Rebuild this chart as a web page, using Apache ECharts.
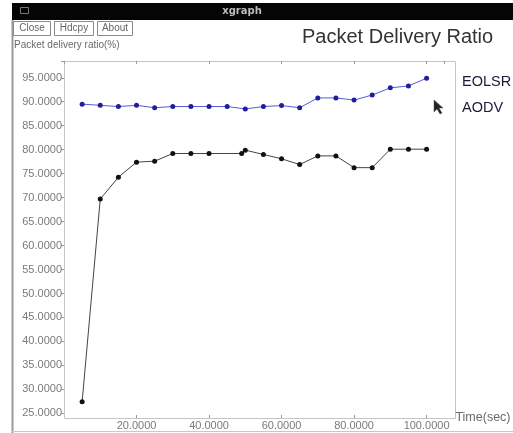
<!DOCTYPE html>
<html>
<head>
<meta charset="utf-8">
<script src="https://cdn.jsdelivr.net/npm/echarts@6/dist/echarts.min.js"></script>
<style>
  html, body { margin: 0; padding: 0; background: #ffffff; }
  #chart { width: 513px; height: 433px; }
</style>
</head>
<body>
<div id="chart"></div>
<script>
const EOLSR_X = [5, 10, 15, 20, 25, 30, 35, 40, 45, 50, 55, 60, 65, 70, 75, 80, 85, 90, 95, 100];
const EOLSR_Y = [89.5, 89.25, 89.0, 89.25, 88.75, 89.0, 89.0, 89.0, 89.0, 88.5, 89.0, 89.2, 88.75, 90.8, 90.8, 90.35, 91.4, 92.9, 93.3, 94.9];
const AODV_X = [5, 10, 15, 20, 25, 30, 35, 40, 49, 50, 55, 60, 65, 70, 75, 80, 85, 90, 95, 100];
const AODV_Y = [27.4, 69.7, 74.25, 77.4, 77.6, 79.2, 79.2, 79.2, 79.2, 79.9, 79.0, 78.1, 76.9, 78.7, 78.7, 76.25, 76.25, 80.1, 80.1, 80.1];
const BUTTONS = ["Close", "Hdcpy", "About"];

const X_MIN = 0, X_MAX = 104.8, X_STEP = 20;
const Y_MIN = 25, Y_MAX = 98.5, Y_STEP = 5;

// plot box (the xgraph frame runs a few px below the 25 line)
const PLOT = { left: 64, top: 61, right: 455, bottom: 418 };
const GRID_BOTTOM_PX = 413.3;

const chart = echarts.init(document.getElementById("chart"), null, { renderer: "canvas" });

const pairs = (xs, ys) => xs.map((x, i) => [x, ys[i]]);
const fmt = (v) => v.toFixed(4);

const tickStyle = { lineStyle: { color: "#9a9a9a", width: 1 } };
const labelFont = { fontFamily: "Liberation Sans, Arial, sans-serif", fontSize: 11, color: "#7a7a7a" };

const buttonGraphics = [];
let bx = 13;
const BUTTON_W = [37, 39, 35];
BUTTONS.forEach((label, i) => {
  buttonGraphics.push({
    type: "rect",
    shape: { x: bx + 0.5, y: 21.5, width: BUTTON_W[i], height: 14 },
    style: { fill: "#ffffff", stroke: "#8a8a8a", lineWidth: 1 },
  });
  buttonGraphics.push({
    type: "text",
    style: {
      x: bx + BUTTON_W[i] / 2 + 0.5, y: 28.5, text: label,
      align: "center", verticalAlign: "middle",
      font: "10px Liberation Sans, Arial, sans-serif", fill: "#666666",
    },
  });
  bx += BUTTON_W[i] + 4;
});

const option = {
  backgroundColor: "#ffffff",
  animation: false,
  title: {
    text: "Packet Delivery Ratio",
    left: 297,
    top: 22,
    textStyle: { fontFamily: "Liberation Sans, Arial, sans-serif", fontSize: 20, fontWeight: "normal", color: "#333333" },
  },
  legend: {
    orient: "vertical",
    left: 452,
    top: 69,
    itemGap: 11,
    itemWidth: 0,
    itemHeight: 14,
    icon: "none",
    data: ["EOLSR", "AODV"],
    textStyle: { fontFamily: "Liberation Sans, Arial, sans-serif", fontSize: 14.5, color: "#1a1a38" },
  },
  grid: {
    left: PLOT.left,
    right: 513 - PLOT.right,
    top: PLOT.top,
    bottom: 433 - GRID_BOTTOM_PX,
    containLabel: false,
  },
  xAxis: [
    {
      type: "value",
      min: X_MIN, max: X_MAX, interval: X_STEP,
      offset: PLOT.bottom - GRID_BOTTOM_PX,
      name: "Time(sec)",
      nameLocation: "end",
      nameGap: 8,
      nameTextStyle: { fontFamily: "Liberation Sans, Arial, sans-serif", fontSize: 12.5, color: "#6a6a6a", verticalAlign: "middle" },
      axisLine: { show: false },
      axisTick: { show: true, inside: true, length: 3, ...tickStyle },
      splitLine: { show: false },
      axisLabel: {
        ...labelFont, margin: 2,
        showMinLabel: false, showMaxLabel: false,
        formatter: (v) => (v > 0 && v % X_STEP === 0 ? fmt(v) : ""),
      },
    },
    {
      type: "value", position: "top",
      min: X_MIN, max: X_MAX, interval: X_STEP,
      axisLine: { show: false },
      axisTick: { show: true, inside: true, length: 3, ...tickStyle },
      axisLabel: { show: false },
      splitLine: { show: false },
    },
  ],
  yAxis: [
    {
      type: "value",
      min: Y_MIN, max: Y_MAX, interval: Y_STEP,
      axisLine: { show: false },
      axisTick: { show: true, inside: false, length: 3, ...tickStyle },
      splitLine: { show: false },
      axisLabel: {
        ...labelFont, margin: 2,
        showMaxLabel: false,
        formatter: (v) => (v % Y_STEP === 0 ? fmt(v) : ""),
      },
    },
    {
      type: "value", position: "right",
      min: Y_MIN, max: Y_MAX, interval: Y_STEP,
      axisLine: { show: false },
      axisTick: { show: true, inside: true, length: 3, ...tickStyle },
      axisLabel: { show: false },
      splitLine: { show: false },
    },
  ],
  graphic: [
    // window chrome
    { type: "rect", shape: { x: 12, y: 3, width: 501, height: 17 }, style: { fill: "#050505" } },
    { type: "rect", shape: { x: 20.5, y: 7.5, width: 8, height: 6 }, style: { fill: "none", stroke: "#777777", lineWidth: 1 } },
    { type: "text", style: { x: 242, y: 11.5, text: "xgraph", align: "center", verticalAlign: "middle", font: "bold 10px DejaVu Sans, sans-serif", fill: "#bdbdbd" } },
    { type: "line", shape: { x1: 12.5, y1: 20, x2: 12.5, y2: 433 }, style: { stroke: "#9a9a9a", lineWidth: 2 } },
    { type: "line", shape: { x1: 12, y1: 431.5, x2: 513, y2: 431.5 }, style: { stroke: "#c8c8c8", lineWidth: 1 } },
    ...buttonGraphics,
    { type: "text", style: { x: 14, y: 45, text: "Packet delivery ratio(%)", verticalAlign: "middle", font: "10px Liberation Sans, Arial, sans-serif", fill: "#6a6a6a" } },
    // plot frame
    {
      type: "rect",
      shape: { x: PLOT.left + 0.5, y: PLOT.top + 0.5, width: PLOT.right - PLOT.left, height: PLOT.bottom - PLOT.top },
      style: { fill: "none", stroke: "#c4c4c4", lineWidth: 1 },
    },
    // mouse pointer
    {
      type: "polygon",
      shape: { points: [[434, 100], [434, 112], [437, 109], [440, 114], [442, 113], [439, 108], [443, 108]] },
      style: { fill: "#222222", stroke: "#555555", lineWidth: 0.5 },
    },
  ],
  series: [
    {
      name: "EOLSR",
      type: "line",
      data: pairs(EOLSR_X, EOLSR_Y),
      symbol: "circle",
      symbolSize: 5,
      itemStyle: { color: "#1f1f9c" },
      lineStyle: { color: "#5a5ad6", width: 1 },
      z: 3,
    },
    {
      name: "AODV",
      type: "line",
      data: pairs(AODV_X, AODV_Y),
      symbol: "circle",
      symbolSize: 5,
      itemStyle: { color: "#111111" },
      lineStyle: { color: "#444444", width: 1 },
      z: 3,
    },
  ],
};

chart.setOption(option);
</script>
</body>
</html>
